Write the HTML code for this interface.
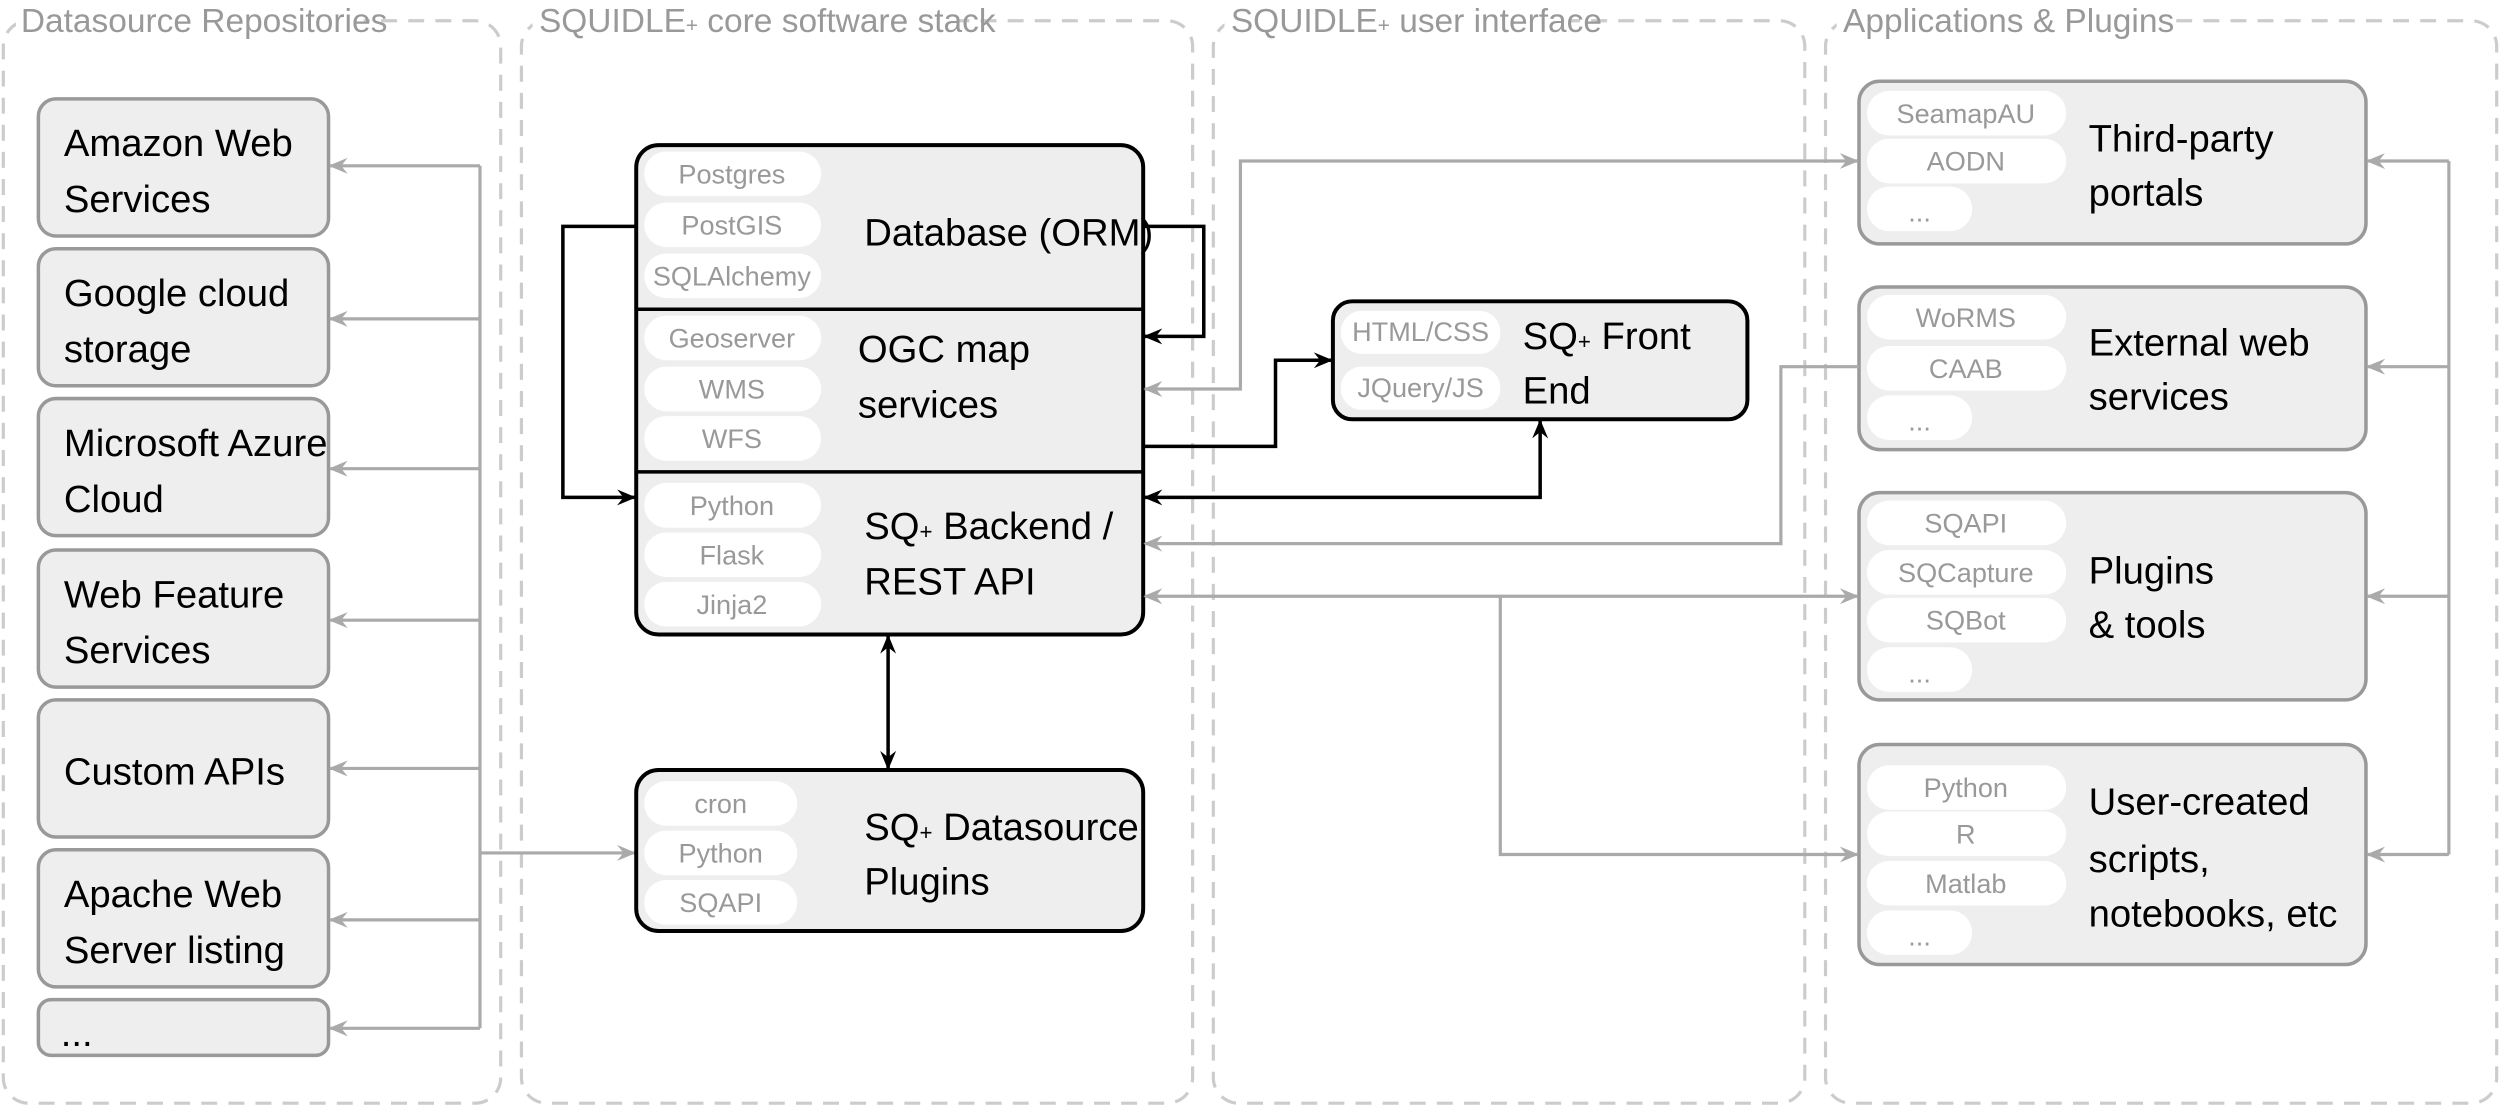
<!DOCTYPE html>
<html><head><meta charset="utf-8"><style>
html,body{margin:0;padding:0;background:#fff;}
svg{display:block;}
text{font-family:"Liberation Sans Narrow","Liberation Sans",sans-serif;}
.t{font-size:24px;fill:#000;}
.p{font-size:17px;fill:#999;text-anchor:middle;}
.h{font-size:21px;fill:#999;}
.g{stroke:#aaa;stroke-width:2;fill:none;}
.k{stroke:#000;stroke-width:2.2;fill:none;}
.col{fill:none;stroke:#ccc;stroke-width:2;stroke-dasharray:10 7;}
.bx{fill:#eee;stroke:#999;stroke-width:2.2;}
.cb{fill:#eee;stroke:#000;stroke-width:2.5;}
.pill{fill:#fff;}
</style></head><body>
<svg width="2500" height="1108" viewBox="0 0 1568 695" xmlns="http://www.w3.org/2000/svg">
<defs>
<marker id="ag" viewBox="0 0 12 10" refX="11" refY="5" markerWidth="12" markerHeight="10" markerUnits="userSpaceOnUse" orient="auto-start-reverse"><path d="M0,0 L12,5 L0,10 L4,5 z" fill="#aaa"/></marker>
<marker id="ak" viewBox="0 0 12 10" refX="11" refY="5" markerWidth="12" markerHeight="10" markerUnits="userSpaceOnUse" orient="auto-start-reverse"><path d="M0,0 L12,5 L0,10 L4,5 z" fill="#000"/></marker>
</defs>
<!-- columns -->
<rect class="col" x="2" y="13" width="312" height="679" rx="16"/>
<rect class="col" x="327" y="13" width="421" height="679" rx="16"/>
<rect class="col" x="761" y="13" width="371" height="679" rx="16"/>
<rect class="col" x="1145" y="13" width="421" height="679" rx="16"/>
<rect x="10" y="0" width="218" height="26" fill="#fff"/>
<rect x="334" y="0" width="266" height="26" fill="#fff"/>
<rect x="768" y="0" width="216" height="26" fill="#fff"/>
<rect x="1152" y="0" width="206" height="26" fill="#fff"/>
<text class="h" x="13" y="20">Datasource Repositories</text>
<text class="h" x="338" y="20">SQUIDLE<tspan font-size="13">+</tspan> core software stack</text>
<text class="h" x="772" y="20">SQUIDLE<tspan font-size="13">+</tspan> user interface</text>
<text class="h" x="1156" y="20">Applications &amp; Plugins</text>

<!-- left boxes -->
<g>
<rect class="bx" x="24" y="62" width="182" height="86" rx="11"/>
<text class="t" x="40" y="98">Amazon Web</text><text class="t" x="40" y="133">Services</text>
<rect class="bx" x="24" y="156" width="182" height="86" rx="11"/>
<text class="t" x="40" y="192">Google cloud</text><text class="t" x="40" y="227">storage</text>
<rect class="bx" x="24" y="250" width="182" height="86" rx="11"/>
<text class="t" x="40" y="286">Microsoft Azure</text><text class="t" x="40" y="321">Cloud</text>
<rect class="bx" x="24" y="345" width="182" height="86" rx="11"/>
<text class="t" x="40" y="381">Web Feature</text><text class="t" x="40" y="416">Services</text>
<rect class="bx" x="24" y="439" width="182" height="86" rx="11"/>
<text class="t" x="40" y="492">Custom APIs</text>
<rect class="bx" x="24" y="533" width="182" height="86" rx="11"/>
<text class="t" x="40" y="569">Apache Web</text><text class="t" x="40" y="604">Server listing</text>
<rect class="bx" x="24" y="627" width="182" height="35" rx="8"/>
<text class="t" x="38" y="656">...</text>
</g>
<path class="g" d="M301,104 V645"/>
<path class="g" d="M301,104 H207" marker-end="url(#ag)"/>
<path class="g" d="M301,200 H207" marker-end="url(#ag)"/>
<path class="g" d="M301,294 H207" marker-end="url(#ag)"/>
<path class="g" d="M301,389 H207" marker-end="url(#ag)"/>
<path class="g" d="M301,482 H207" marker-end="url(#ag)"/>
<path class="g" d="M301,577 H207" marker-end="url(#ag)"/>
<path class="g" d="M301,645 H207" marker-end="url(#ag)"/>
<path class="g" d="M301,535 H398" marker-end="url(#ag)"/>

<!-- core box -->
<rect class="cb" x="399" y="91" width="318" height="307" rx="14"/>
<path class="k" d="M399,194 H717 M399,296 H717" stroke-width="2.5"/>
<g>
<rect class="pill" x="404" y="95" width="111" height="28" rx="14"/><text class="p" x="459" y="115">Postgres</text>
<rect class="pill" x="404" y="127" width="111" height="28" rx="14"/><text class="p" x="459" y="147">PostGIS</text>
<rect class="pill" x="404" y="159" width="111" height="28" rx="14"/><text class="p" x="459" y="179">SQLAlchemy</text>
<rect class="pill" x="404" y="198" width="111" height="28" rx="14"/><text class="p" x="459" y="218">Geoserver</text>
<rect class="pill" x="404" y="230" width="111" height="28" rx="14"/><text class="p" x="459" y="250">WMS</text>
<rect class="pill" x="404" y="261" width="111" height="28" rx="14"/><text class="p" x="459" y="281">WFS</text>
<rect class="pill" x="404" y="303" width="111" height="28" rx="14"/><text class="p" x="459" y="323">Python</text>
<rect class="pill" x="404" y="334" width="111" height="28" rx="14"/><text class="p" x="459" y="354">Flask</text>
<rect class="pill" x="404" y="365" width="111" height="28" rx="14"/><text class="p" x="459" y="385">Jinja2</text>
</g>
<text class="t" x="542" y="154">Database (ORM)</text>
<text class="t" x="538" y="227">OGC map</text><text class="t" x="538" y="262">services</text>
<text class="t" x="542" y="338">SQ<tspan font-size="14">+</tspan> Backend /</text><text class="t" x="542" y="373">REST API</text>

<!-- datasource plugins -->
<rect class="cb" x="399" y="483" width="318" height="101" rx="14"/>
<rect class="pill" x="404" y="490" width="96" height="28" rx="14"/><text class="p" x="452" y="510">cron</text>
<rect class="pill" x="404" y="521" width="96" height="28" rx="14"/><text class="p" x="452" y="541">Python</text>
<rect class="pill" x="404" y="552" width="96" height="28" rx="14"/><text class="p" x="452" y="572">SQAPI</text>
<text class="t" x="542" y="527">SQ<tspan font-size="14">+</tspan> Datasource</text><text class="t" x="542" y="561">Plugins</text>

<!-- front end -->
<rect class="cb" x="836" y="189" width="260" height="74" rx="12"/>
<rect class="pill" x="841" y="195" width="100" height="27" rx="13"/><text class="p" x="891" y="214">HTML/CSS</text>
<rect class="pill" x="841" y="230" width="100" height="27" rx="13"/><text class="p" x="891" y="249">JQuery/JS</text>
<text class="t" x="955" y="219">SQ<tspan font-size="14">+</tspan> Front</text><text class="t" x="955" y="253">End</text>

<!-- black connectors -->
<path class="k" d="M399,142 H353 V312 H398" marker-end="url(#ak)"/>
<path class="k" d="M717,142 H755 V211 H718" marker-end="url(#ak)"/>
<path class="k" d="M717,280 H800 V226 H835" marker-end="url(#ak)"/>
<path class="k" d="M718,312 H966 V264" marker-start="url(#ak)" marker-end="url(#ak)"/>
<path class="k" d="M557,399 V482" marker-start="url(#ak)" marker-end="url(#ak)"/>

<!-- right boxes -->
<rect class="bx" x="1166" y="51" width="318" height="102" rx="13"/>
<rect class="pill" x="1171" y="57" width="125" height="28" rx="14"/><text class="p" x="1233" y="77">SeamapAU</text>
<rect class="pill" x="1171" y="87" width="125" height="28" rx="14"/><text class="p" x="1233" y="107">AODN</text>
<rect class="pill" x="1171" y="117" width="66" height="28" rx="14"/><text class="p" x="1204" y="139" font-size="12">...</text>
<text class="t" x="1310" y="95">Third-party</text><text class="t" x="1310" y="129">portals</text>

<rect class="bx" x="1166" y="180" width="318" height="102" rx="13"/>
<rect class="pill" x="1171" y="185" width="125" height="28" rx="14"/><text class="p" x="1233" y="205">WoRMS</text>
<rect class="pill" x="1171" y="217" width="125" height="28" rx="14"/><text class="p" x="1233" y="237">CAAB</text>
<rect class="pill" x="1171" y="248" width="66" height="28" rx="14"/><text class="p" x="1204" y="270" font-size="12">...</text>
<text class="t" x="1310" y="223">External web</text><text class="t" x="1310" y="257">services</text>

<rect class="bx" x="1166" y="309" width="318" height="130" rx="13"/>
<rect class="pill" x="1171" y="314" width="125" height="28" rx="14"/><text class="p" x="1233" y="334">SQAPI</text>
<rect class="pill" x="1171" y="345" width="125" height="28" rx="14"/><text class="p" x="1233" y="365">SQCapture</text>
<rect class="pill" x="1171" y="375" width="125" height="28" rx="14"/><text class="p" x="1233" y="395">SQBot</text>
<rect class="pill" x="1171" y="406" width="66" height="28" rx="14"/><text class="p" x="1204" y="428" font-size="12">...</text>
<text class="t" x="1310" y="366">Plugins</text><text class="t" x="1310" y="400">&amp; tools</text>

<rect class="bx" x="1166" y="467" width="318" height="138" rx="13"/>
<rect class="pill" x="1171" y="480" width="125" height="28" rx="14"/><text class="p" x="1233" y="500">Python</text>
<rect class="pill" x="1171" y="509" width="125" height="28" rx="14"/><text class="p" x="1233" y="529">R</text>
<rect class="pill" x="1171" y="540" width="125" height="28" rx="14"/><text class="p" x="1233" y="560">Matlab</text>
<rect class="pill" x="1171" y="571" width="66" height="28" rx="14"/><text class="p" x="1204" y="593" font-size="12">...</text>
<text class="t" x="1310" y="511">User-created</text><text class="t" x="1310" y="547">scripts,</text><text class="t" x="1310" y="581">notebooks, etc</text>

<!-- gray right connectors -->
<path class="g" d="M1536,101 V536"/>
<path class="g" d="M1536,101 H1485" marker-end="url(#ag)"/>
<path class="g" d="M1536,230 H1485" marker-end="url(#ag)"/>
<path class="g" d="M1536,374 H1485" marker-end="url(#ag)"/>
<path class="g" d="M1536,536 H1485" marker-end="url(#ag)"/>
<path class="g" d="M718,244 H778 V101 H1165" marker-start="url(#ag)" marker-end="url(#ag)"/>
<path class="g" d="M1166,230 H1117 V341 H718" marker-end="url(#ag)"/>
<path class="g" d="M718,374 H1165" marker-start="url(#ag)" marker-end="url(#ag)"/>
<path class="g" d="M941,374 V536 H1165" marker-end="url(#ag)"/>
</svg>
</body></html>
